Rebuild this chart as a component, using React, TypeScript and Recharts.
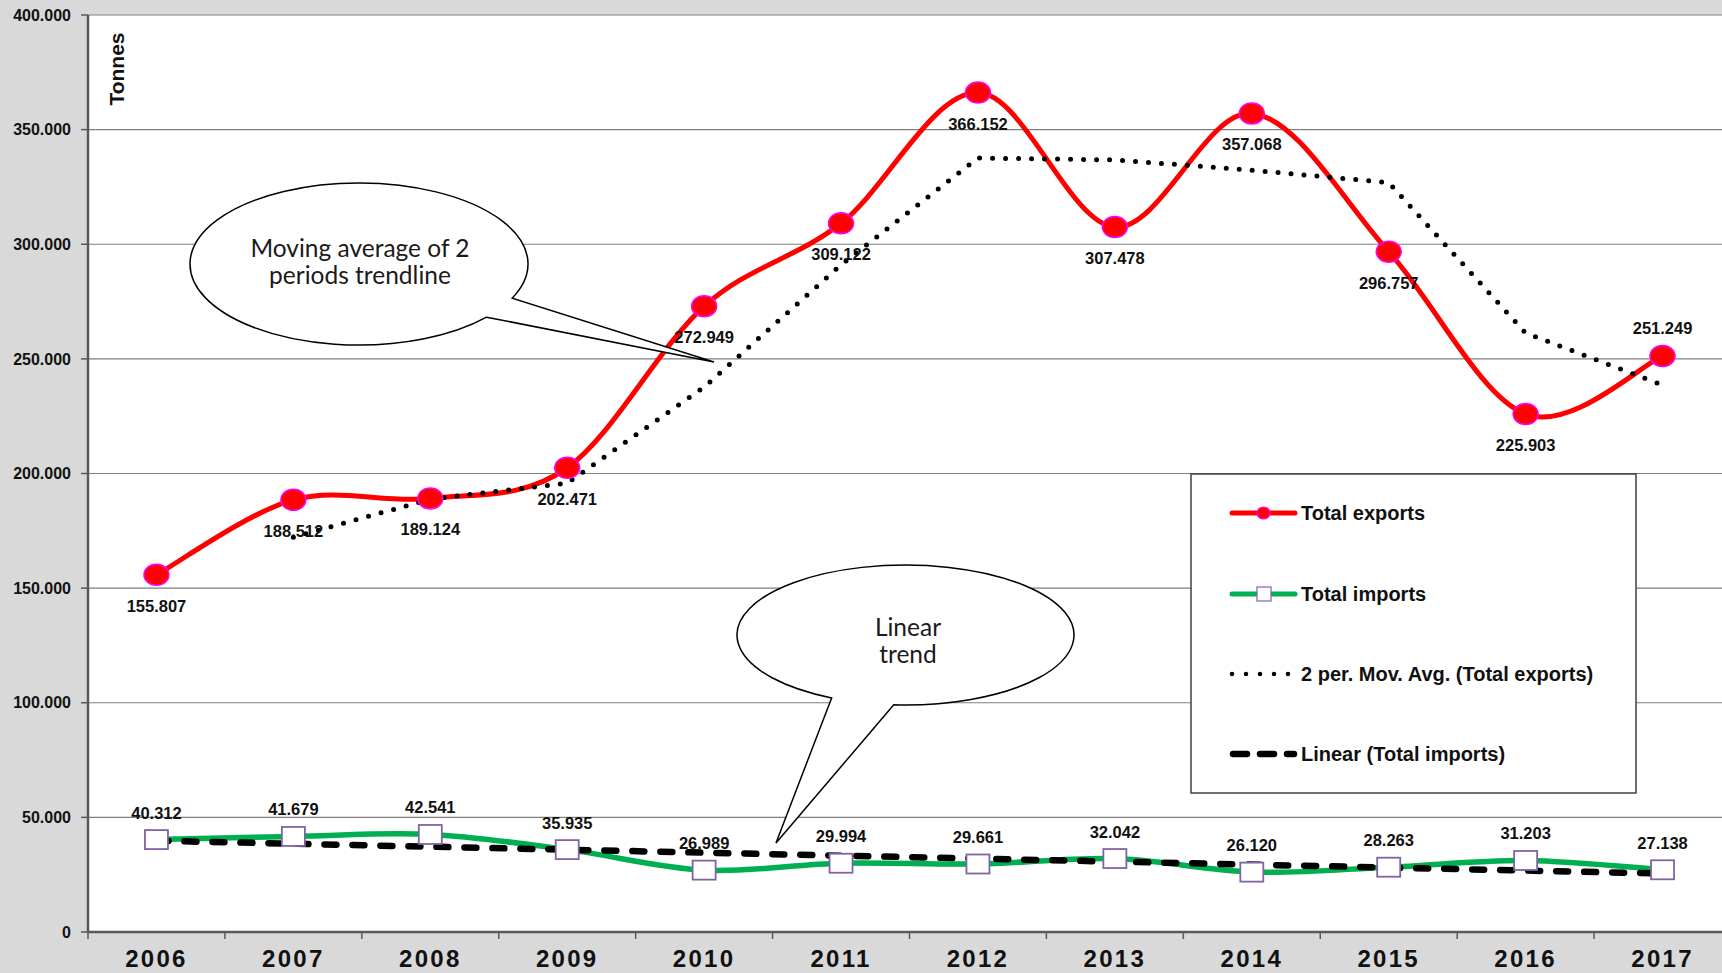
import React from 'react';
import { LineChart, Line, XAxis, YAxis, CartesianGrid, LabelList } from 'recharts';

const years = [2006, 2007, 2008, 2009, 2010, 2011, 2012, 2013, 2014, 2015, 2016, 2017];
const totalExports = [155807, 188512, 189124, 202471, 272949, 309122, 366152, 307478, 357068, 296757, 225903, 251249];
const totalImports = [40312, 41679, 42541, 35935, 26989, 29994, 29661, 32042, 26120, 28263, 31203, 27138];
const movingAvgExports = [null, 172200, 188800, 195800, 237700, 291000, 337600, 336800, 332300, 326900, 261300, 238600];
const linearImports = [39800, null, null, null, null, null, null, null, null, null, null, 25500];
const yTicks = [0, 50000, 100000, 150000, 200000, 250000, 300000, 350000, 400000];

const data = years.map((year, i) => ({
  year,
  exports: totalExports[i],
  imports: totalImports[i],
  movAvg: movingAvgExports[i],
  linear: linearImports[i],
}));

// half-year ticks carry the small tick marks, whole years carry the labels
const xTicks = years.flatMap((y) => [y - 0.5, y]).concat([years[years.length - 1] + 0.5]);

const FONT = '"Liberation Sans", Arial, sans-serif';

const fmt = (v: number) => String(v).replace(/\B(?=(\d{3})+(?!\d))/g, '.');

// Excel-like smoothed line (Catmull-Rom through every point)
function smoothCurve(context: any) {
  let pts: [number, number][] = [];
  return {
    areaStart() {},
    areaEnd() {},
    lineStart() {
      pts = [];
    },
    point(x: number, y: number) {
      pts.push([+x, +y]);
    },
    lineEnd() {
      const n = pts.length;
      if (!n) return;
      context.moveTo(pts[0][0], pts[0][1]);
      for (let i = 0; i < n - 1; i++) {
        const p0 = pts[i - 1] || pts[i];
        const p1 = pts[i];
        const p2 = pts[i + 1];
        const p3 = pts[i + 2] || pts[i + 1];
        context.bezierCurveTo(
          p1[0] + (p2[0] - p0[0]) / 6,
          p1[1] + (p2[1] - p0[1]) / 6,
          p2[0] - (p3[0] - p1[0]) / 6,
          p2[1] - (p3[1] - p1[1]) / 6,
          p2[0],
          p2[1]
        );
      }
    },
  };
}

const ExportDot = (p: any) => (
  <ellipse key={`e${p.index}`} cx={p.cx} cy={p.cy} rx={12.5} ry={10.5} fill="#ff0000" stroke="#ff00ff" strokeWidth={1.5} />
);

const ImportDot = (p: any) => (
  <rect key={`i${p.index}`} x={p.cx - 11.5} y={p.cy - 9.5} width={23} height={19} fill="#fff" stroke="#8064a2" strokeWidth={1.8} />
);

const exportLabel = (p: any) => {
  const above = p.index === years.length - 1;
  return (
    <text x={p.x} y={above ? p.y - 28 : p.y + 31} textAnchor="middle" dominantBaseline="central"
      fontFamily={FONT} fontWeight="bold" fontSize={16.5} fill="#111">
      {fmt(p.value)}
    </text>
  );
};

const importLabel = (p: any) => (
  <text x={p.x} y={p.y - 27} textAnchor="middle" dominantBaseline="central"
    fontFamily={FONT} fontWeight="bold" fontSize={16.5} fill="#111">
    {fmt(p.value)}
  </text>
);

const XTick = (p: any) => {
  const v = p.payload.value;
  if (Number.isInteger(v)) {
    return (
      <text x={p.x} y={p.y + 26} textAnchor="middle" dominantBaseline="central"
        fontFamily={FONT} fontWeight="bold" fontSize={24} letterSpacing={2.3} fill="#111">
        {v}
      </text>
    );
  }
  return <line x1={p.x} x2={p.x} y1={p.y} y2={p.y + 7} stroke="#595959" strokeWidth={1.5} />;
};

function bubblePath(cx: number, cy: number, rx: number, ry: number, a1: number, a2: number, tx: number, ty: number) {
  const pt = (a: number) => [cx + rx * Math.cos((a * Math.PI) / 180), cy + ry * Math.sin((a * Math.PI) / 180)];
  const [x1, y1] = pt(a1);
  const [x2, y2] = pt(a2);
  return `M${x2},${y2} L${tx},${ty} L${x1},${y1} A${rx},${ry} 0 1 0 ${x2},${y2} Z`;
}

function Overlay() {
  const calloutText = { fontFamily: 'Lato, "Open Sans", sans-serif', fontSize: 24.5, fill: '#1a1a1a' };
  const legendText = { fontFamily: FONT, fontWeight: 'bold' as const, fontSize: 20, fill: '#111' };
  return (
    <svg width={1722} height={973} style={{ position: 'absolute', left: 0, top: 0, pointerEvents: 'none' }}>
      <text x={116} y={69} transform="rotate(-90 116 69)" textAnchor="middle" dominantBaseline="central"
        fontFamily={FONT} fontWeight="bold" fontSize={21} fill="#111">
        Tonnes
      </text>

      <path d={bubblePath(359, 264, 169, 81, 25, 41, 714, 362)} fill="#fff" stroke="#000" strokeWidth={1.5} />
      <text x={360} y={247} textAnchor="middle" dominantBaseline="central" {...calloutText}>Moving average of 2</text>
      <text x={360} y={274} textAnchor="middle" dominantBaseline="central" {...calloutText}>periods trendline</text>

      <path d={bubblePath(905.5, 635, 168.5, 70, 94, 116, 776, 843)} fill="#fff" stroke="#000" strokeWidth={1.5} />
      <text x={908} y={626} textAnchor="middle" dominantBaseline="central" {...calloutText}>Linear</text>
      <text x={908} y={653} textAnchor="middle" dominantBaseline="central" {...calloutText}>trend</text>

      <rect x={1191} y={474} width={445} height={319} fill="#fff" stroke="#404040" strokeWidth={1.5} />
      <line x1={1232} x2={1295} y1={513} y2={513} stroke="#ff0000" strokeWidth={5} strokeLinecap="round" />
      <ellipse cx={1263.5} cy={513} rx={6.5} ry={6} fill="#ff0000" stroke="#ff00ff" strokeWidth={1.2} />
      <text x={1301} y={513} dominantBaseline="central" {...legendText}>Total exports</text>

      <line x1={1232} x2={1295} y1={594} y2={594} stroke="#00b050" strokeWidth={5} strokeLinecap="round" />
      <rect x={1257} y={587} width={14} height={14} fill="#fff" stroke="#8064a2" strokeWidth={1.2} />
      <text x={1301} y={594} dominantBaseline="central" {...legendText}>Total imports</text>

      <line x1={1232} x2={1290} y1={674} y2={674} stroke="#000" strokeWidth={4.5} strokeLinecap="round" strokeDasharray="0 14" />
      <text x={1301} y={674} dominantBaseline="central" {...legendText}>2 per. Mov. Avg. (Total exports)</text>

      <line x1={1233} x2={1294} y1={754} y2={754} stroke="#000" strokeWidth={6.5} strokeLinecap="round" strokeDasharray="14 13" />
      <text x={1301} y={754} dominantBaseline="central" {...legendText}>Linear (Total imports)</text>
    </svg>
  );
}

export default function App() {
  return (
    <div style={{ position: 'fixed', left: 0, top: 0, width: 1722, height: 973, overflow: 'hidden', background: '#d9d9d9', fontFamily: FONT }}>
      <LineChart width={1731} height={973} data={data} margin={{ top: 15, right: 0, bottom: 0, left: 0 }}>
        <CartesianGrid vertical={false} stroke="#7f7f7f" strokeWidth={1.2} fill="#ffffff" fillOpacity={1} />
        <XAxis
          dataKey="year"
          type="number"
          domain={[2005.5, 2017.5]}
          ticks={xTicks}
          interval={0}
          allowDecimals
          height={41}
          tickSize={0}
          tickMargin={0}
          tickLine={false}
          axisLine={{ stroke: '#595959', strokeWidth: 2.5 }}
          tick={XTick}
        />
        <YAxis
          type="number"
          domain={[0, 400000]}
          ticks={yTicks}
          interval={0}
          width={88}
          tickSize={7}
          tickMargin={10}
          tickFormatter={fmt}
          tick={{ fontFamily: FONT, fontWeight: 'bold', fontSize: 16, fill: '#111' }}
          tickLine={{ stroke: '#595959', strokeWidth: 1.5 }}
          axisLine={{ stroke: '#595959', strokeWidth: 2.5 }}
        />
        <Line dataKey="imports" type={smoothCurve as any} stroke="#00b050" strokeWidth={5.5} dot={ImportDot} isAnimationActive={false}>
          <LabelList dataKey="imports" content={importLabel} />
        </Line>
        <Line dataKey="exports" type={smoothCurve as any} stroke="#ff0000" strokeWidth={5} dot={ExportDot} isAnimationActive={false}>
          <LabelList dataKey="exports" content={exportLabel} />
        </Line>
        <Line dataKey="movAvg" type="linear" stroke="#000" strokeWidth={5} strokeLinecap="round" strokeDasharray="0 13" dot={false} isAnimationActive={false} />
        <Line dataKey="linear" type="linear" connectNulls stroke="#000" strokeWidth={6.5} strokeLinecap="round" strokeDasharray="12 16" dot={false} isAnimationActive={false} />
      </LineChart>
      <Overlay />
    </div>
  );
}
